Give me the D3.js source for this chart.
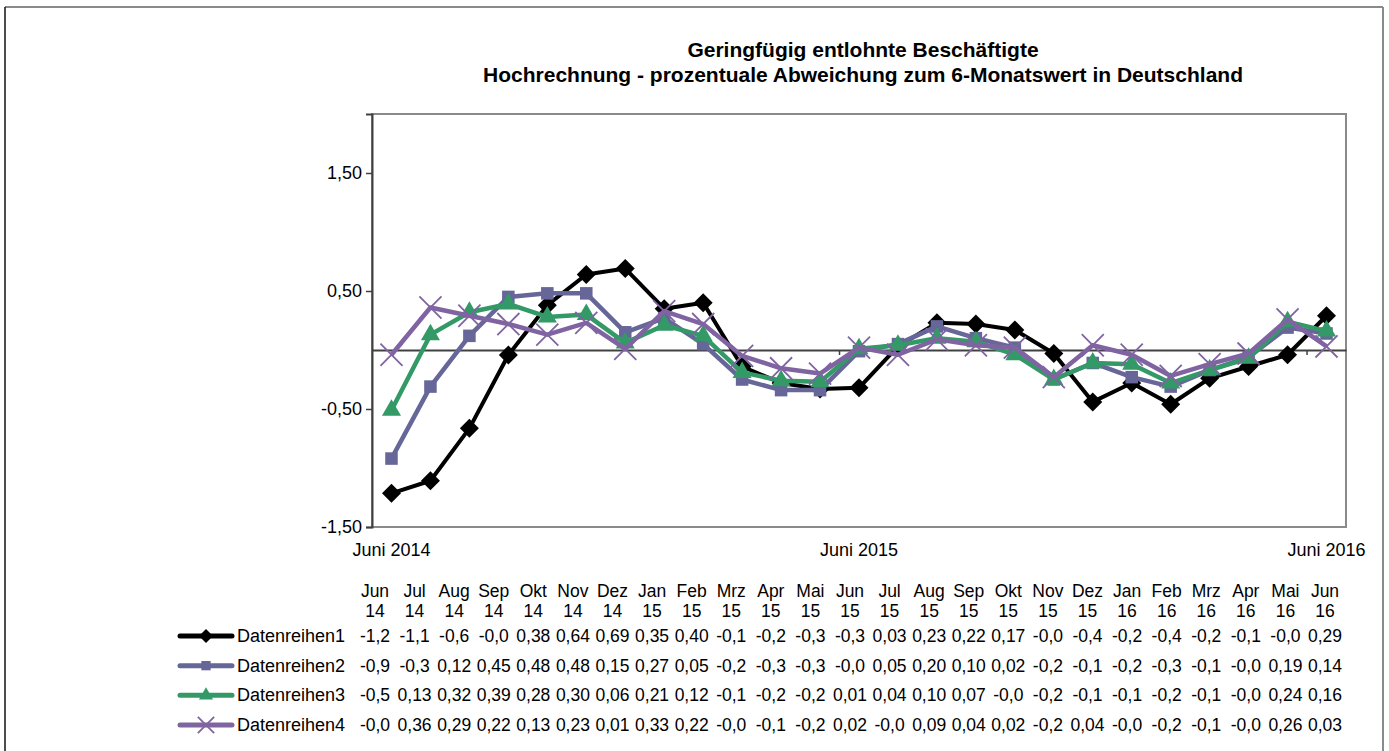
<!DOCTYPE html>
<html>
<head>
<meta charset="utf-8">
<script src="https://cdn.jsdelivr.net/npm/d3@7"></script>
<style>
  html, body { margin: 0; padding: 0; background: #fff; }
  svg { display: block; font-family: "Liberation Sans", Arial, sans-serif; }
</style>
</head>
<body>
<svg id="chart" width="1389" height="751"></svg>
<script>
const width = 1389
const height = 751

// categories (month + year, shown on two lines in the table)
const months = ['Jun 14', 'Jul 14', 'Aug 14', 'Sep 14', 'Okt 14', 'Nov 14', 'Dez 14',
  'Jan 15', 'Feb 15', 'Mrz 15', 'Apr 15', 'Mai 15', 'Jun 15', 'Jul 15', 'Aug 15',
  'Sep 15', 'Okt 15', 'Nov 15', 'Dez 15', 'Jan 16', 'Feb 16', 'Mrz 16', 'Apr 16',
  'Mai 16', 'Jun 16']

const seriesNames = ['Datenreihen1', 'Datenreihen2', 'Datenreihen3', 'Datenreihen4']

const reihe1 = [-1.215, -1.108, -0.664, -0.042, 0.38, 0.64, 0.69, 0.35, 0.40, -0.14, -0.28, -0.33,
  -0.32, 0.03, 0.23, 0.22, 0.17, -0.03, -0.44, -0.28, -0.46, -0.24, -0.14, -0.04, 0.29]
const reihe2 = [-0.92, -0.31, 0.12, 0.45, 0.48, 0.48, 0.15, 0.27, 0.05, -0.25, -0.34, -0.34,
  -0.01, 0.05, 0.20, 0.10, 0.02, -0.25, -0.11, -0.23, -0.31, -0.17, -0.06, 0.19, 0.14]
const reihe3 = [-0.51, 0.13, 0.32, 0.39, 0.28, 0.30, 0.06, 0.21, 0.12, -0.19, -0.26, -0.27,
  0.01, 0.04, 0.10, 0.07, -0.04, -0.25, -0.11, -0.12, -0.28, -0.17, -0.07, 0.24, 0.16]
const reihe4 = [-0.04, 0.36, 0.29, 0.22, 0.13, 0.23, 0.01, 0.33, 0.22, -0.05, -0.155, -0.20,
  0.02, -0.04, 0.09, 0.04, 0.02, -0.23, 0.04, -0.04, -0.22, -0.12, -0.03, 0.26, 0.03]

const yTicks = [-1.5, -0.5, 0.5, 1.5]
const xLabels = ['Juni 2014', 'Juni 2015', 'Juni 2016']
const xLabelIndex = [0, 12, 24]

const titleLines = ['Geringfügig entlohnte Beschäftigte',
  'Hochrechnung - prozentuale Abweichung zum 6-Monatswert in Deutschland']

const colors = ['#000000', '#666699', '#339966', '#8064a2']
const symbols = [d3.symbolDiamond2, d3.symbolSquare2, d3.symbolTriangle2, d3.symbolX]
const markerSize = [230, 200, 260, 320]

const series = [reihe1, reihe2, reihe3, reihe4].map((values, i) => ({
  name: seriesNames[i],
  values,
  color: colors[i],
  symbol: symbols[i],
  size: markerSize[i]
}))

const plot = { left: 372, top: 114, right: 1346, bottom: 527 }

const de = d3.formatLocale({ decimal: ',', thousands: '.', grouping: [3], currency: ['', ' €'], minus: '-' })
const fmtTick = de.format('.2f')

// the table cells are narrow: show only the first 4 characters
function cellText (v) {
  return v.toFixed(3).slice(0, 4).replace('.', ',')
}

const svg = d3.select('svg#chart')

// chart area frame
svg.append('line').attr('x1', 5).attr('x2', 1383).attr('y1', 7).attr('y2', 7)
  .attr('stroke', '#8a8a8a').attr('stroke-width', 2)
svg.append('line').attr('x1', 1383).attr('x2', 1383).attr('y1', 7).attr('y2', height)
  .attr('stroke', '#8a8a8a').attr('stroke-width', 2)
svg.append('line').attr('x1', 5).attr('x2', 5).attr('y1', 7).attr('y2', height)
  .attr('stroke', '#111').attr('stroke-width', 1.5)

// title
svg.append('text')
  .attr('text-anchor', 'middle')
  .attr('font-weight', 'bold')
  .attr('font-size', 21)
  .selectAll('tspan')
  .data(titleLines)
  .join('tspan')
  .attr('x', 863)
  .attr('y', (d, i) => 57 + i * 25)
  .text(d => d)

const x = d3.scaleBand().domain(months).range([plot.left, plot.right])
const xp = d => x(d) + x.bandwidth() / 2
const y = d3.scaleLinear().domain([-1.5, 2.0]).range([plot.bottom, plot.top])

// plot area border
svg.append('rect')
  .attr('x', plot.left).attr('y', plot.top)
  .attr('width', plot.right - plot.left).attr('height', plot.bottom - plot.top)
  .attr('fill', 'none').attr('stroke', '#8a8a8a').attr('stroke-width', 2)

// y axis
const yAxis = svg.append('g')
  .attr('transform', `translate(${plot.left},0)`)
  .call(d3.axisLeft(y).tickValues(yTicks).tickFormat(fmtTick).tickSize(6).tickPadding(4))
yAxis.select('.domain').attr('stroke', '#404040').attr('stroke-width', 2)
yAxis.selectAll('.tick line').attr('stroke', '#404040').attr('stroke-width', 1.5)
yAxis.selectAll('.tick text').attr('font-size', 18).attr('fill', '#000')
  .attr('font-family', '"Liberation Sans", Arial, sans-serif')

// zero line with yearly tick marks
const xAxis = svg.append('g')
  .attr('transform', `translate(0,${y(0)})`)
  .call(d3.axisBottom(x)
    .tickValues([])
    .tickSizeOuter(0))
xAxis.select('.domain').attr('stroke', '#404040').attr('stroke-width', 2)
xAxis.selectAll('line.year')
  .data(xLabelIndex.filter(i => i > 0))
  .join('line')
  .attr('class', 'year')
  .attr('x1', i => x(months[i]))
  .attr('x2', i => x(months[i]))
  .attr('y1', 0)
  .attr('y2', 5)
  .attr('stroke', '#404040')
  .attr('stroke-width', 1.5)

svg.append('g')
  .selectAll('text')
  .data(xLabelIndex)
  .join('text')
  .attr('x', i => xp(months[i]))
  .attr('y', 556)
  .attr('text-anchor', 'middle')
  .attr('font-size', 18)
  .text((i, k) => xLabels[k])

// series lines and markers
const line = d3.line()
  .x((d, i) => xp(months[i]))
  .y(d => y(d))

const lines = svg.append('g')
series.forEach(s => {
  const isX = s.symbol === d3.symbolX
  const g = lines.append('g')
  g.append('path')
    .datum(s.values)
    .attr('d', line)
    .attr('fill', 'none')
    .attr('stroke', s.color)
    .attr('stroke-width', s.symbol === d3.symbolDiamond2 ? 4 : 4.5)
    .attr('stroke-linejoin', 'round')
  g.selectAll('path.marker')
    .data(s.values)
    .join('path')
    .attr('class', 'marker')
    .attr('transform', (d, i) => `translate(${xp(months[i])},${y(d)})`)
    .attr('d', d3.symbol(s.symbol, s.size))
    .attr('fill', isX ? 'none' : s.color)
    .attr('stroke', s.color)
    .attr('stroke-width', isX ? 1.8 : 0)
})

// data table below the chart
const tx = d3.scalePoint().domain(months).range([375, 1325])
const table = svg.append('g').attr('font-size', 17.5).attr('text-anchor', 'middle')

table.selectAll('text.head')
  .data(months)
  .join('text')
  .attr('class', 'head')
  .attr('x', d => tx(d))
  .selectAll('tspan')
  .data(d => d.split(' ').map(t => ({ t, x: tx(d) })))
  .join('tspan')
  .attr('x', d => d.x)
  .attr('y', (d, i) => 597 + i * 20)
  .text(d => d.t)

const rowY = d3.scalePoint().domain(seriesNames).range([642, 731])

series.forEach(s => {
  const isX = s.symbol === d3.symbolX
  const row = table.append('g')
  row.selectAll('text')
    .data(s.values)
    .join('text')
    .attr('x', (d, i) => tx(months[i]))
    .attr('y', rowY(s.name))
    .text(d => cellText(d))

  // legend key
  const ky = rowY(s.name) - 6
  const key = svg.append('g')
  key.append('line')
    .attr('x1', 180).attr('x2', 232)
    .attr('y1', ky).attr('y2', ky)
    .attr('stroke', s.color).attr('stroke-width', 5)
    .attr('stroke-linecap', 'round')
  key.append('path')
    .attr('transform', `translate(206,${ky})`)
    .attr('d', d3.symbol(s.symbol, s.size * 0.55))
    .attr('fill', isX ? 'none' : s.color)
    .attr('stroke', s.color)
    .attr('stroke-width', isX ? 1.8 : 0)
  key.append('text')
    .attr('x', 237).attr('y', rowY(s.name))
    .attr('font-size', 18)
    .text(s.name)
})
</script>
</body>
</html>
